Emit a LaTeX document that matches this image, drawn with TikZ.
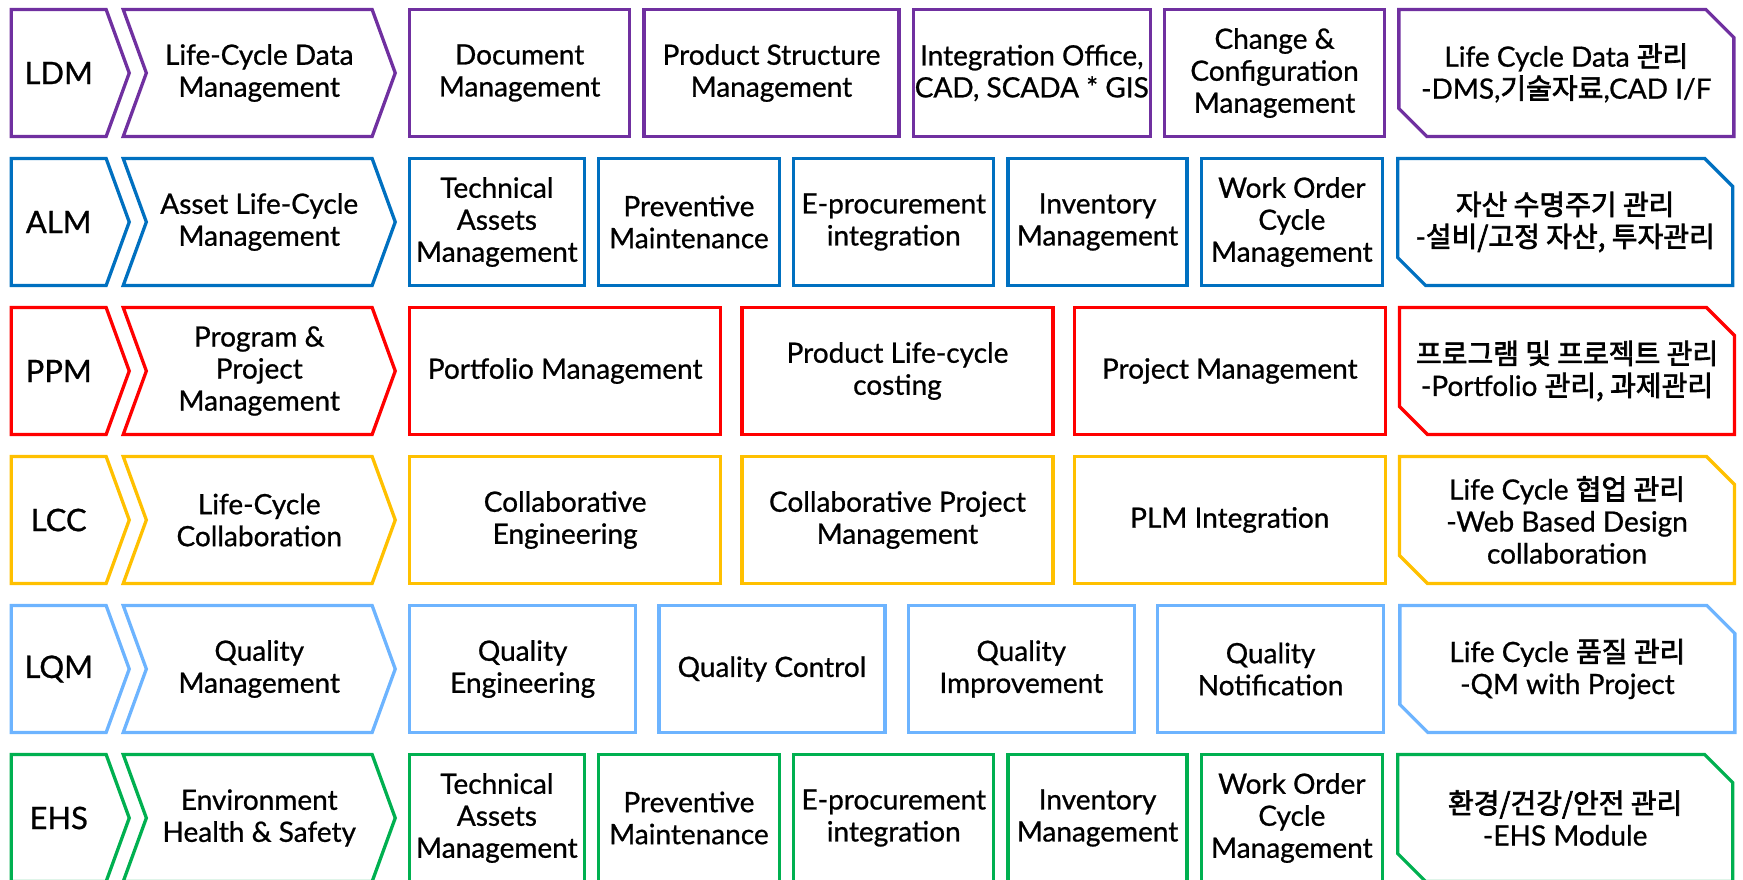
\documentclass[tikz,border=0pt]{standalone}
\usepackage{fontspec}
\setmainfont{Lato}[FakeBold=0.8]
\newfontfamily\kr{Noto Sans CJK KR}[FakeBold=2.4]
\usetikzlibrary{shapes.symbols, shapes.misc, positioning}

\definecolor{ldmcol}{HTML}{7030A0}
\definecolor{almcol}{HTML}{0070C0}
\definecolor{ppmcol}{HTML}{FF0000}
\definecolor{lcccol}{HTML}{FFC000}
\definecolor{lqmcol}{HTML}{6DB4FF}
\definecolor{ehscol}{HTML}{00B050}

\tikzset{
  tag/.style={signal, signal to=east, signal pointer angle=140, draw=#1, line width=3.3pt, minimum width=118pt, minimum height=127pt, inner sep=0pt, font=\fontsize{31}{34}\selectfont},
  area/.style={signal, signal from=west, signal to=east, signal pointer angle=140, draw=#1, line width=3.3pt, minimum width=272pt, minimum height=127pt, inner sep=0pt, align=center, font=\fontsize{28}{32}\selectfont},
  func/.style={rectangle, draw=#1, line width=3.3pt, minimum height=127pt, inner sep=0pt, align=center, font=\fontsize{28}{32}\selectfont},
  goal/.style={chamfered rectangle, chamfered rectangle corners={north east, south west}, chamfered rectangle xsep=14pt, chamfered rectangle ysep=14pt, draw=#1, line width=3.3pt, minimum width=335pt, minimum height=127pt, inner sep=0pt, align=center, font=\fontsize{28}{32}\selectfont}
}

\begin{document}
\begin{tikzpicture}[x=1pt, y=-1pt, node distance=11pt]
    \useasboundingbox (0,0) rectangle (1743,880);
    \clip (0,0) rectangle (1743,880);

    % --- LDM ---
    \node (ldm) [tag=ldmcol, anchor=east] at (131,73) {LDM};
    \node (ldmarea) [area=ldmcol, anchor=east] at (397,73) {Life-Cycle Data\\Management};
    \node (ldm1) [func=ldmcol, minimum width=220pt, anchor=west] at (408,73) {Document\\Management};
    \node (ldm2) [func=ldmcol, minimum width=255pt, right=of ldm1] {Product Structure\\Management};
    \node (ldm3) [func=ldmcol, minimum width=237pt, right=of ldm2] {Integration Office,\\CAD, SCADA * GIS};
    \node (ldm4) [func=ldmcol, minimum width=220pt, right=of ldm3] {Change \&\\Configuration\\Management};
    \node (ldmgoal) [goal=ldmcol, right=of ldm4] {Life Cycle Data {\kr 관리}\\-DMS,{\kr 기술자료},CAD I/F};

    % --- ALM ---
    \node (alm) [tag=almcol, anchor=east] at (131,222) {ALM};
    \node (almarea) [area=almcol, anchor=east] at (397,222) {Asset Life-Cycle\\Management};
    \node (alm1) [func=almcol, minimum width=174.5pt, anchor=west] at (408,222) {Technical\\Assets\\Management};
    \node (alm2) [func=almcol, minimum width=181pt, right=of alm1] {Preventive\\Maintenance};
    \node (alm3) [func=almcol, minimum width=200pt, right=of alm2] {E-procurement\\integration};
    \node (alm4) [func=almcol, minimum width=179pt, right=of alm3] {Inventory\\Management};
    \node (alm5) [func=almcol, minimum width=181pt, right=of alm4] {Work Order\\Cycle\\Management};
    \node (almgoal) [goal=almcol, right=12pt of alm5] {{\kr 자산 수명주기 관리}\\-{\kr 설비/고정 자산, 투자관리}};

    % --- PPM ---
    \node (ppm) [tag=ppmcol, anchor=east] at (131,371) {PPM};
    \node (ppmarea) [area=ppmcol, anchor=east] at (397,371) {Program \&\\Project\\Management};
    \node (ppm1) [func=ppmcol, minimum width=311pt, anchor=west] at (408,371) {Portfolio Management};
    \node (ppm2) [func=ppmcol, minimum width=311pt, right=18pt of ppm1] {Product Life-cycle\\costing};
    \node (ppm3) [func=ppmcol, minimum width=311pt, right=18pt of ppm2] {Project Management};
    \node (ppmgoal) [goal=ppmcol, right=of ppm3] {{\kr 프로그램 및 프로젝트 관리}\\-Portfolio {\kr 관리, 과제관리}};

    % --- LCC ---
    \node (lcc) [tag=lcccol, anchor=east] at (131,520) {LCC};
    \node (lccarea) [area=lcccol, anchor=east] at (397,520) {Life-Cycle\\Collaboration};
    \node (lcc1) [func=lcccol, minimum width=311pt, anchor=west] at (408,520) {Collaborative\\Engineering};
    \node (lcc2) [func=lcccol, minimum width=311pt, right=18pt of lcc1] {Collaborative Project\\Management};
    \node (lcc3) [func=lcccol, minimum width=311pt, right=18pt of lcc2] {PLM Integration};
    \node (lccgoal) [goal=lcccol, right=of lcc3] {Life Cycle {\kr 협업 관리}\\-Web Based Design\\collaboration};

    % --- LQM ---
    \node (lqm) [tag=lqmcol, anchor=east] at (131,669) {LQM};
    \node (lqmarea) [area=lqmcol, anchor=east] at (397,669) {Quality\\Management};
    \node (lqm1) [func=lqmcol, minimum width=226pt, anchor=west] at (408,669) {Quality\\Engineering};
    \node (lqm2) [func=lqmcol, minimum width=226pt, right=20pt of lqm1] {Quality Control};
    \node (lqm3) [func=lqmcol, minimum width=226pt, right=20pt of lqm2] {Quality\\Improvement};
    \node (lqm4) [func=lqmcol, minimum width=226pt, right=20pt of lqm3] {Quality\\Notification};
    \node (lqmgoal) [goal=lqmcol, right=13pt of lqm4] {Life Cycle {\kr 품질 관리}\\-QM with Project};

    % --- EHS (bottom edge runs off the page) ---
    \node (ehs) [tag=ehscol, anchor=east] at (131,818) {EHS};
    \node (ehsarea) [area=ehscol, anchor=east] at (397,818) {Environment\\Health \& Safety};
    \node (ehs1) [func=ehscol, minimum width=174.5pt, anchor=west] at (408,818) {Technical\\Assets\\Management};
    \node (ehs2) [func=ehscol, minimum width=181pt, right=of ehs1] {Preventive\\Maintenance};
    \node (ehs3) [func=ehscol, minimum width=200pt, right=of ehs2] {E-procurement\\integration};
    \node (ehs4) [func=ehscol, minimum width=179pt, right=of ehs3] {Inventory\\Management};
    \node (ehs5) [func=ehscol, minimum width=181pt, right=of ehs4] {Work Order\\Cycle\\Management};
    \node (ehsgoal) [goal=ehscol, right=12pt of ehs5] {{\kr 환경/건강/안전 관리}\\-EHS Module};
\end{tikzpicture}
\end{document}
